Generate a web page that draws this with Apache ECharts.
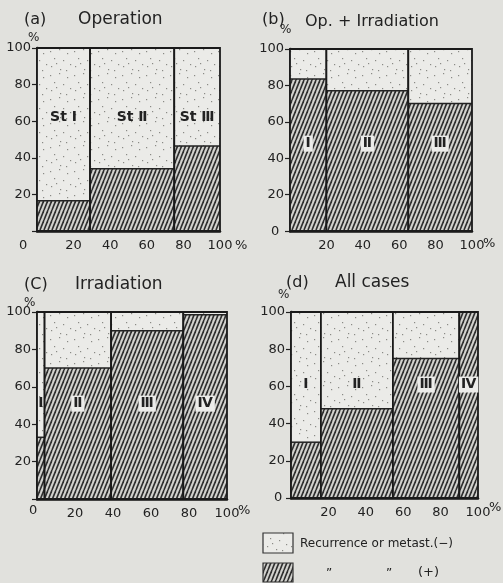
<!DOCTYPE html>
<html>
<head>
<meta charset="utf-8">
<script src="https://cdn.jsdelivr.net/npm/echarts@6/dist/echarts.min.js"></script>
<style>
html,body{margin:0;padding:0;background:#e1e1dd;}
#main{width:503px;height:583px;}
</style>
</head>
<body>
<div id="main"></div>
<script>
// ---- data ----
const aBounds = [0, 29, 75, 100];
const aPositive = [16.5, 34, 46.5];
const aNames = ['St Ⅰ', 'St Ⅱ', 'St Ⅲ'];

const bBounds = [0, 20, 65, 100];
const bPositive = [83.5, 77, 70];
const bNames = ['Ⅰ', 'Ⅱ', 'Ⅲ'];

const cBounds = [0, 4, 39, 77, 100];
const cPositive = [33, 70, 90, 98.5];
const cNames = ['Ⅰ', 'Ⅱ', 'Ⅲ', 'Ⅳ'];

const dBounds = [0, 16, 54.5, 90, 100];
const dPositive = [30, 48, 75, 100];
const dNames = ['Ⅰ', 'Ⅱ', 'Ⅲ', 'Ⅳ'];

const xTickValues = [20, 40, 60, 80, 100];
const yTickValues = [20, 40, 60, 80, 100];

const titles = ['(a)', 'Operation', '(b)', 'Op. + Irradiation', '(C)', 'Irradiation', '(d)', 'All cases'];
const legendTexts = ['Recurrence or metast.(\u2212)', '\u201D', '\u201D', '(+)'];

// ---- patterns ----
function hatchCanvas() {
  const c = document.createElement('canvas');
  c.width = 4; c.height = 10;
  const g = c.getContext('2d');
  g.fillStyle = '#d2d2ce';
  g.fillRect(0, 0, 4, 10);
  g.strokeStyle = '#2e2e2e';
  g.lineWidth = 1.6;
  for (let k = -8; k <= 8; k += 4) {
    g.beginPath();
    g.moveTo(k, 10);
    g.lineTo(k + 4, 0);
    g.stroke();
  }
  return c;
}
function dotCanvas() {
  const c = document.createElement('canvas');
  c.width = 24; c.height = 24;
  const g = c.getContext('2d');
  g.fillStyle = '#ebebe8';
  g.fillRect(0, 0, 24, 24);
  g.fillStyle = '#8a8a86';
  const pts = [[2,3],[11,1],[19,5],[6,10],[15,12],[22,16],[3,18],[12,21],[18,22],[8,15]];
  pts.forEach(p => g.fillRect(p[0], p[1], 1.2, 1.2));
  return c;
}
const hatch = {image: hatchCanvas(), repeat: 'repeat'};
const dots = {image: dotCanvas(), repeat: 'repeat'};

const grids = [
  {left: 37, top: 48, width: 183, height: 183},
  {left: 290, top: 49, width: 182, height: 182},
  {left: 37, top: 312, width: 190, height: 187},
  {left: 291, top: 312, width: 187, height: 186}
];
const panelBounds = [aBounds, bBounds, cBounds, dBounds];
const panelPos = [aPositive, bPositive, cPositive, dPositive];
const panelNames = [aNames, bNames, cNames, dNames];
const labelLevels = [62, 48, 51, 61];

const FONT = 'DejaVu Sans';
const INK = '#222';

const xAxes = [], yAxes = [], series = [];
grids.forEach((g, i) => {
  xAxes.push({
    gridIndex: i, type: 'value', min: 0, max: 100, interval: 20,
    axisLine: {show: true, lineStyle: {color: '#111', width: 2.5}},
    axisTick: {show: false},
    splitLine: {show: false},
    axisLabel: {color: INK, fontFamily: FONT, fontSize: 13, margin: 8,
      formatter: v => (xTickValues.indexOf(v) >= 0 ? String(v) : '')}
  });
  yAxes.push({
    gridIndex: i, type: 'value', min: 0, max: 100, interval: 20,
    axisLine: {show: true, lineStyle: {color: '#111', width: 2.5}},
    axisTick: {show: true, length: 5, lineStyle: {color: '#222', width: 1.2}},
    splitLine: {show: false},
    axisLabel: {color: INK, fontFamily: FONT, fontSize: 13, margin: 6,
      formatter: v => (yTickValues.indexOf(v) >= 0 ? String(v) : '')}
  });
  const b = panelBounds[i], p = panelPos[i], names = panelNames[i], lvl = labelLevels[i];
  const data = p.map((v, k) => [b[k], b[k + 1], v]);
  series.push({
    type: 'custom', xAxisIndex: i, yAxisIndex: i, silent: true,
    data: data,
    renderItem: function (params, api) {
      const x0 = api.value(0), x1 = api.value(1), pv = api.value(2);
      const bl = api.coord([x0, 0]);
      const tr = api.coord([x1, 100]);
      const mid = api.coord([x1, pv]);
      const w = tr[0] - bl[0];
      const lab = api.coord([(x0 + x1) / 2, lvl]);
      const inHatch = lvl < pv;
      return {
        type: 'group',
        children: [
          {type: 'rect', shape: {x: bl[0], y: mid[1], width: w, height: bl[1] - mid[1]},
            style: {fill: hatch, stroke: null}},
          {type: 'rect', shape: {x: bl[0], y: tr[1], width: w, height: mid[1] - tr[1]},
            style: {fill: dots, stroke: null}},
          {type: 'line', shape: {x1: bl[0], y1: mid[1], x2: tr[0], y2: mid[1]},
            style: {stroke: '#222', lineWidth: 1.5}},
          {type: 'rect', shape: {x: bl[0], y: tr[1], width: w, height: bl[1] - tr[1]},
            style: {fill: null, stroke: '#1a1a1a', lineWidth: 1.8}},
          {type: 'text', x: lab[0], y: lab[1],
            style: {text: names[params.dataIndex], fill: '#222', font: 'bold 14px ' + FONT,
              align: 'center', verticalAlign: 'middle',
              backgroundColor: inHatch ? '#ececea' : null, padding: [1, 2]}}
        ]
      };
    }
  });
});

const T = (x, y, text, size, extra) => Object.assign({
  type: 'text', x: x, y: y,
  style: {text: text, fill: INK, font: (size || 13) + 'px ' + FONT, verticalAlign: 'middle'}
}, extra || {});

const graphic = [
  // titles
  T(24, 20, titles[0], 16), T(78, 20, titles[1], 17),
  T(262, 20, titles[2], 16), T(305, 22, titles[3], 16),
  T(24, 285, titles[4], 16), T(75, 285, titles[5], 17),
  T(286, 283, titles[6], 16), T(335, 283, titles[7], 17),
  // "%" units
  T(28, 38, '%', 12), T(280, 30, '%', 12), T(24, 303, '%', 12), T(278, 295, '%', 12),
  T(235, 246, '%', 13), T(483, 244, '%', 13), T(238, 511, '%', 13), T(489, 508, '%', 13),
  // zeros
  T(19, 246, '0', 13), T(271, 232, '0', 13), T(29, 511, '0', 13), T(274, 498, '0', 13),
  // legend
  {type: 'rect', shape: {x: 263, y: 533, width: 30, height: 20},
    style: {fill: dots, stroke: '#333', lineWidth: 1.2}},
  {type: 'rect', shape: {x: 263, y: 563, width: 30, height: 19},
    style: {fill: hatch, stroke: '#333', lineWidth: 1.2}},
  T(300, 544, legendTexts[0], 12),
  T(326, 574, legendTexts[1], 12), T(386, 574, legendTexts[2], 12), T(418, 573, legendTexts[3], 13)
];

const chart = echarts.init(document.getElementById('main'), null, {renderer: 'canvas'});
chart.setOption({
  backgroundColor: '#e1e1dd',
  animation: false,
  grid: grids,
  xAxis: xAxes,
  yAxis: yAxes,
  series: series,
  graphic: graphic
});
</script>
</body>
</html>
